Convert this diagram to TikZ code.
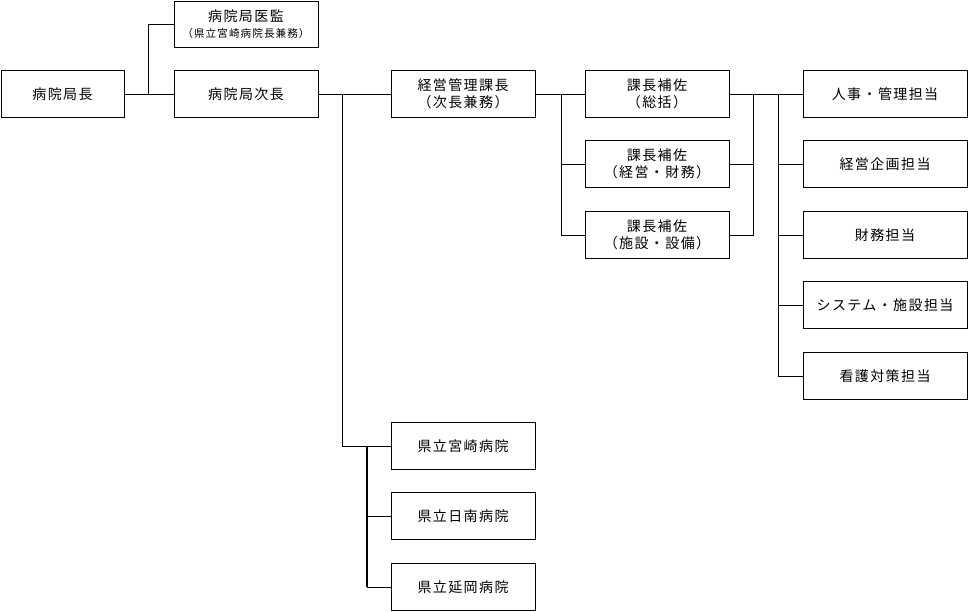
\documentclass[tikz,border=0pt]{standalone}
\usepackage{fontspec}
\newfontfamily\jpfont[LetterSpace=10]{Noto Sans CJK JP}

\begin{document}
\begin{tikzpicture}[x=1pt, y=-1pt, line width=0.9pt]
	\tikzset{
		orgbox/.style={draw, minimum width=144pt, minimum height=47pt, inner sep=0pt, align=center, font=\fontsize{14}{17}\selectfont\jpfont},
		teambox/.style={orgbox, minimum width=164pt},
	}
	\useasboundingbox (0,0) rectangle (968,612);
	\node [orgbox, minimum width=123pt] (chief) at (62.5,94) {病院局長};
	\node [orgbox, minimum height=46pt] (inspector) at (246,24) {病院局医監\\[-1pt]\fontsize{10.6}{12}\selectfont （県立宮崎病院長兼務）};
	\node [orgbox] (deputy) at (246,94) {病院局次長};
	\node [orgbox] (manager) at (463,94) {経営管理課長\\（次長兼務）};
	\node [orgbox] (asstgeneral) at (657,94) {課長補佐\\（総括）};
	\node [orgbox] (asstfinance) at (657,164) {課長補佐\\（経営・財務）};
	\node [orgbox] (asstfacility) at (657,235) {課長補佐\\（施設・設備）};
	\coordinate (chiefjoin) at (148,94);
	\coordinate (deputyjoin) at (342,94);
	\coordinate (hospjoin) at (367,446);
	\coordinate (managerjoin) at (561,94);
	\coordinate (asstjoin) at (753,94);
	\coordinate (teamjoin) at (778,94);
	\draw (chief.east) -- (deputy.west);
	\draw (chiefjoin) |- (inspector.west);
	\draw (deputy.east) -- (manager.west);
	\draw (manager.east) -- (asstgeneral.west);
	\draw (managerjoin) |- (asstfacility.west);
	\draw (managerjoin |- asstfinance.west) -- (asstfinance.west);
	\draw (asstgeneral.east) -- (teamjoin);
	\draw (asstfinance.east) -| (asstjoin);
	\draw (asstfacility.east) -| (asstjoin);
	\foreach \unitname/\ypos/\unittext in {%
			personnel/94/人事・管理担当, planning/164/経営企画担当, finance/235/財務担当, system/305/システム・施設担当, nursing/376/看護対策担当%
	}{%
		\node [teambox] (\unitname) at (885,\ypos) {\unittext};
		\draw (teamjoin |- \unitname.west) -- (\unitname.west);
	}
	\draw (teamjoin) -- (teamjoin |- nursing.west);
	\foreach \unitname/\ypos/\unittext in {%
			miyazaki/446/県立宮崎病院, nichinan/516/県立日南病院, nobeoka/587/県立延岡病院%
	}{%
		\node [orgbox] (\unitname) at (463,\ypos) {\unittext};
		\draw (hospjoin |- \unitname.west) -- (\unitname.west);
	}
	\draw (deputyjoin) |- (miyazaki.west);
	\draw [line width=1.8pt] (hospjoin) -- (hospjoin |- nobeoka.west);
\end{tikzpicture}
\end{document}
